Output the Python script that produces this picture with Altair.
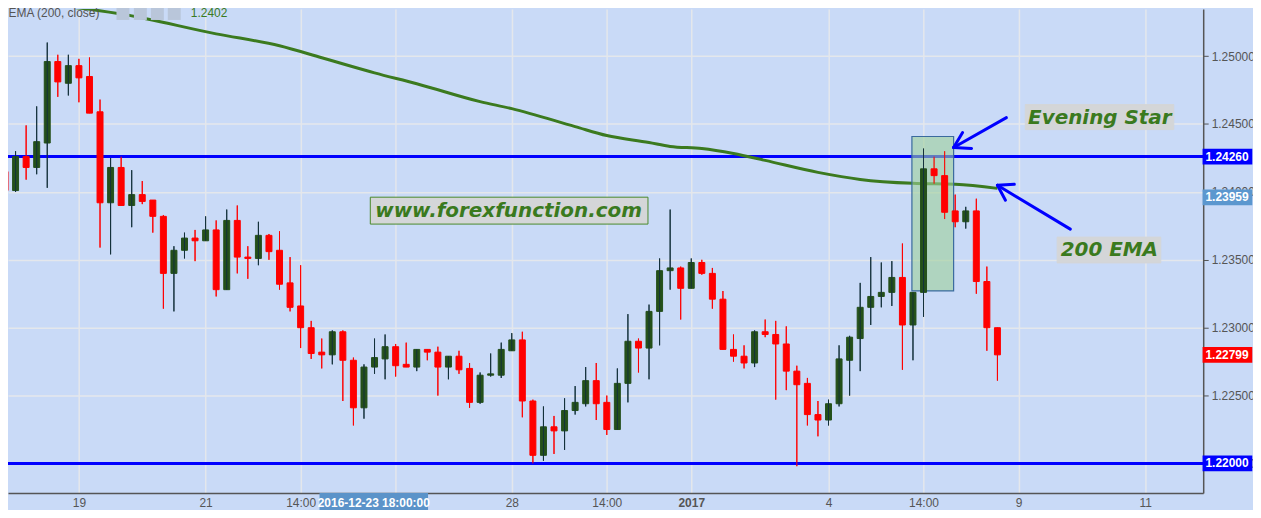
import altair as alt
import pandas as pd

# ---------------- data ----------------
opens = [1.2415, 1.2401, 1.2426, 1.2418, 1.2436, 1.2496, 1.2480, 1.2493, 1.2485, 1.2459,
         1.2392, 1.2418, 1.2390, 1.2398, 1.2394, 1.2382, 1.2340, 1.2357, 1.2366, 1.2364,
         1.2372, 1.2328, 1.2379, 1.2352, 1.2351, 1.2368, 1.2357, 1.2333, 1.2316, 1.2300,
         1.2282, 1.2280, 1.2297, 1.2276, 1.2241, 1.2271, 1.2277, 1.2286, 1.2273, 1.2271,
         1.2284, 1.2282, 1.2271, 1.2279, 1.2270, 1.2245, 1.2265, 1.2265, 1.2283, 1.2291,
         1.2246, 1.2206, 1.2227, 1.2224, 1.2239, 1.2244, 1.2261, 1.2245, 1.2225, 1.2259,
         1.2290, 1.2285, 1.2312, 1.2342, 1.2344, 1.2329, 1.2348, 1.2340, 1.2321, 1.2284,
         1.2279, 1.2274, 1.2297, 1.2295, 1.2288, 1.2268, 1.2259, 1.2236, 1.2232, 1.2244,
         1.2276, 1.2292, 1.2315, 1.2323, 1.2326, 1.2337, 1.2302, 1.2326, 1.2417, 1.2412,
         1.2386, 1.2378, 1.2386, 1.2334, 1.2300]
highs = [1.2428, 1.2430, 1.2449, 1.2463, 1.2510, 1.2501, 1.2501, 1.2498, 1.2499, 1.2468,
         1.2425, 1.2426, 1.2416, 1.2408, 1.2394, 1.2383, 1.2360, 1.2370, 1.2372, 1.2382,
         1.2379, 1.2387, 1.2390, 1.2360, 1.2378, 1.2369, 1.2371, 1.2352, 1.2346, 1.2305,
         1.2292, 1.2298, 1.2298, 1.2278, 1.2273, 1.2292, 1.2295, 1.2288, 1.2289, 1.2284,
         1.2284, 1.2286, 1.2279, 1.2283, 1.2274, 1.2267, 1.2281, 1.2289, 1.2296, 1.2297,
         1.2247, 1.2242, 1.2235, 1.2248, 1.2257, 1.2271, 1.2274, 1.2250, 1.2270, 1.2310,
         1.2292, 1.2317, 1.2351, 1.2387, 1.2345, 1.2351, 1.2350, 1.2344, 1.2327, 1.2295,
         1.2287, 1.2298, 1.2306, 1.2305, 1.2301, 1.2272, 1.2263, 1.2246, 1.2247, 1.2287,
         1.2294, 1.2333, 1.2352, 1.2348, 1.2349, 1.2362, 1.2326, 1.2432, 1.2426, 1.2430,
         1.2398, 1.2389, 1.2395, 1.2345, 1.2300]
lows = [1.2382, 1.2400, 1.2409, 1.2413, 1.2403, 1.2470, 1.2471, 1.2466, 1.2458, 1.2359,
        1.2354, 1.2390, 1.2374, 1.2391, 1.2370, 1.2314, 1.2312, 1.2351, 1.2349, 1.2364,
        1.2323, 1.2328, 1.2340, 1.2336, 1.2346, 1.2350, 1.2328, 1.2312, 1.2285, 1.2277,
        1.2270, 1.2273, 1.2246, 1.2228, 1.2233, 1.2266, 1.2262, 1.2264, 1.2271, 1.2268,
        1.2276, 1.2250, 1.2262, 1.2266, 1.2241, 1.2244, 1.2264, 1.2263, 1.2283, 1.2234,
        1.2200, 1.2202, 1.2207, 1.2210, 1.2236, 1.2242, 1.2232, 1.2221, 1.2225, 1.2245,
        1.2267, 1.2262, 1.2287, 1.2328, 1.2306, 1.2329, 1.2339, 1.2314, 1.2284, 1.2275,
        1.2270, 1.2271, 1.2293, 1.2247, 1.2254, 1.2198, 1.2228, 1.2220, 1.2228, 1.2242,
        1.2250, 1.2268, 1.2302, 1.2315, 1.2316, 1.2269, 1.2276, 1.2308, 1.2406, 1.2380,
        1.2374, 1.2373, 1.2325, 1.2283, 1.2261]
closes = [1.2401, 1.2426, 1.2418, 1.2437, 1.2496, 1.2481, 1.2493, 1.2484, 1.2458, 1.2392,
          1.2418, 1.2390, 1.2398, 1.2393, 1.2382, 1.2340, 1.2357, 1.2366, 1.2364, 1.2372,
          1.2328, 1.2379, 1.2352, 1.2351, 1.2368, 1.2356, 1.2332, 1.2315, 1.2300, 1.2281,
          1.2280, 1.2297, 1.2276, 1.2241, 1.2271, 1.2278, 1.2286, 1.2272, 1.2271, 1.2284,
          1.2282, 1.2271, 1.2279, 1.2269, 1.2245, 1.2265, 1.2266, 1.2284, 1.2291, 1.2246,
          1.2206, 1.2227, 1.2224, 1.2239, 1.2245, 1.2261, 1.2244, 1.2225, 1.2259, 1.2290,
          1.2285, 1.2312, 1.2342, 1.2344, 1.2329, 1.2348, 1.2340, 1.2321, 1.2284, 1.2279,
          1.2274, 1.2297, 1.2295, 1.2288, 1.2268, 1.2258, 1.2236, 1.2232, 1.2244, 1.2277,
          1.2293, 1.2315, 1.2323, 1.2326, 1.2337, 1.2302, 1.2326, 1.2417, 1.2412, 1.2385,
          1.2378, 1.2386, 1.2334, 1.2300, 1.2280]

# 200 EMA read at candle positions
ema_idx = [0, 7, 11, 20, 26, 30, 35, 39, 45, 48, 54, 57, 61, 63, 66, 69, 72, 77, 81, 86, 90, 94]
ema_val = [1.25385, 1.25354, 1.25310, 1.25164, 1.25076, 1.24988, 1.24877, 1.24797, 1.24665,
           1.24613, 1.24481, 1.24415, 1.24364, 1.24335, 1.24320, 1.24283, 1.24232, 1.24144,
           1.24092, 1.24063, 1.24056, 1.24026]

# horizontal support / resistance levels
levels = [1.2426, 1.2200]

# x axis ticks (candle index) and their labels
x_ticks = [7, 19, 28, 37, 48, 57, 65, 78, 87, 96, 108]
x_labels = ["19", "21", "14:00", "", "28", "14:00", "2017", "4", "14:00", "9", "11"]
y_ticks = [1.220, 1.225, 1.230, 1.235, 1.240, 1.245, 1.250]

# price tags on the right axis
tag_text = ["1.24260", "1.23959", "1.22799", "1.22000"]
tag_price = [1.2426, 1.23959, 1.22799, 1.2200]
tag_color = ["#0000ff", "#5b97cf", "#ff0000", "#0000ff"]

# annotations (index / price units)
star_box = dict(x=85.9, x2=89.85, y=1.24408, y2=1.23271)
notes_text = ["www.forexfunction.com", "Evening Star", "200 EMA"]
notes_x = [47.7, 103.7, 104.6]
notes_y = [1.23858, 1.24547, 1.23572]
box_x = [34.6, 96.64, 99.66]
box_x2 = [60.9, 110.7, 109.47]
box_y = [1.23961, 1.24643, 1.23667]
box_y2 = [1.23763, 1.24459, 1.23477]

# arrows: segments (x, y) -> (x2, y2)
arrow_x = [94.85, 89.85, 89.85, 100.9, 94.0, 94.0]
arrow_y = [1.24547, 1.24327, 1.24327, 1.23726, 1.24049, 1.24049]
arrow_x2 = [89.85, 91.55, 90.7, 94.0, 95.6, 94.76]
arrow_y2 = [1.24327, 1.24320, 1.24437, 1.24049, 1.24056, 1.23939]

X_DOMAIN = [0.283, 113.49]
Y_DOMAIN = [1.217821, 1.253470]

# ---------------- tables ----------------
candles = pd.DataFrame({"i": list(range(len(opens))), "open": opens, "high": highs,
                        "low": lows, "close": closes})
ema = pd.DataFrame({"i": ema_idx, "ema": ema_val})
lv = pd.DataFrame({"level": levels})
tags = pd.DataFrame({"text": tag_text, "price": tag_price})
notes = pd.DataFrame({"text": notes_text, "x": notes_x, "y": notes_y})
boxes = pd.DataFrame({"x": box_x, "x2": box_x2, "y": box_y, "y2": box_y2,
                      "kind": ["web", "note", "note"]})
arrows = pd.DataFrame({"x": arrow_x, "y": arrow_y, "x2": arrow_x2, "y2": arrow_y2})
star = pd.DataFrame([star_box])

xs = alt.Scale(domain=X_DOMAIN, nice=False, zero=False, padding=0)
ys = alt.Scale(domain=Y_DOMAIN, nice=False, zero=False, padding=0)

GRID = "#e4e7ec"
AX = "#555555"
labels_js = "[" + ",".join("'%s'" % s for s in x_labels) + "]"
ticks_js = "[" + ",".join(str(v) for v in x_ticks) + "]"

x_axis = alt.Axis(values=x_ticks, title=None, grid=True, gridColor=GRID, gridWidth=1.5,
                  ticks=False, domainColor=AX, domainWidth=1.5, labelColor=AX,
                  labelFont="Liberation Sans", labelFontSize=12, labelPadding=4,
                  labelOverlap=False,
                  labelExpr=labels_js + "[indexof(" + ticks_js + ", datum.value)]",
                  labelFontWeight={"condition": {"test": "datum.value == 65", "value": "bold"},
                                   "value": "normal"})
y_axis = alt.Axis(orient="right", values=y_ticks, format=".5f", title=None, grid=True,
                  gridColor=GRID, gridWidth=1.5, tickColor=AX, tickSize=5, domainColor=AX,
                  domainWidth=1.5, labelColor=AX, labelFont="Liberation Sans",
                  labelFontSize=12, labelPadding=3)

up = "datum.close >= datum.open"

wicks = alt.Chart(candles).mark_rule(strokeWidth=1).encode(
    x=alt.X("i:Q", scale=xs, axis=x_axis),
    y=alt.Y("low:Q", scale=ys, axis=y_axis),
    y2="high:Q",
    color=alt.condition(up, alt.value("#13303a"), alt.value("#ff0000")),
)
bodies = alt.Chart(candles).mark_bar(size=6, strokeWidth=1).encode(
    x=alt.X("i:Q", scale=xs),
    y=alt.Y("open:Q", scale=ys),
    y2="close:Q",
    fill=alt.condition(up, alt.value("#24501a"), alt.value("#ff0000")),
    stroke=alt.condition(up, alt.value("#24501a"), alt.value("#ff0000")),
)
hlines = alt.Chart(lv).mark_rule(color="#0000ff", strokeWidth=3).encode(
    y=alt.Y("level:Q", scale=ys))
ema_line = alt.Chart(ema).mark_line(color="#3b7a1f", strokeWidth=3, interpolate="monotone",
                                    clip=True).encode(
    x=alt.X("i:Q", scale=xs), y=alt.Y("ema:Q", scale=ys))
star_rect = alt.Chart(star).mark_rect(fill="#9fd09a", fillOpacity=0.6, stroke="#3a6a9e",
                                      strokeWidth=1.2).encode(
    x=alt.X("x:Q", scale=xs), x2="x2:Q", y=alt.Y("y:Q", scale=ys), y2="y2:Q")

note_boxes = alt.Chart(boxes).mark_rect(fill="#d4d6d8").encode(
    x=alt.X("x:Q", scale=xs), x2="x2:Q", y=alt.Y("y:Q", scale=ys), y2="y2:Q",
    stroke=alt.condition("datum.kind == 'web'", alt.value("#4a8a2a"), alt.value("#d4d6d8")),
    strokeDash=alt.value([3, 2]),
)
note_text = alt.Chart(notes).mark_text(font="DejaVu Sans", fontSize=20, fontWeight="bold",
                                       fontStyle="italic", color="#3a7a1e",
                                       baseline="middle", align="center").encode(
    x=alt.X("x:Q", scale=xs), y=alt.Y("y:Q", scale=ys), text="text:N")
arrow_marks = alt.Chart(arrows).mark_rule(color="#0000ff", strokeWidth=3, strokeCap="round").encode(
    x=alt.X("x:Q", scale=xs), x2="x2:Q", y=alt.Y("y:Q", scale=ys), y2="y2:Q")

tag_rects = alt.Chart(tags).transform_calculate(
    lo="datum.price - 0.00058", hi="datum.price + 0.00058", x0="113.43", x1="118.14"
).mark_rect().encode(
    x=alt.X("x0:Q", scale=xs), x2="x1:Q", y=alt.Y("lo:Q", scale=ys), y2="hi:Q",
    color=alt.Color("text:N", scale=alt.Scale(domain=tag_text, range=tag_color), legend=None))
tag_texts = alt.Chart(tags).transform_calculate(xc="115.75").mark_text(
    font="Liberation Sans", fontSize=12, fontWeight="bold", color="white",
    align="center", baseline="middle").encode(
    x=alt.X("xc:Q", scale=xs), y=alt.Y("price:Q", scale=ys), text="text:N")

date_df = pd.DataFrame({"x": [29.79], "x2": [40.07], "y": [1.216427], "y2": [1.217821],
                        "xc": [34.93], "yc": [1.21712], "text": ["2016-12-23 18:00:00"]})
date_box = alt.Chart(date_df).mark_rect(fill="#5b93c9").encode(
    x=alt.X("x:Q", scale=xs), x2="x2:Q", y=alt.Y("y:Q", scale=ys), y2="y2:Q")
date_text = alt.Chart(date_df).mark_text(font="Liberation Sans", fontSize=12, fontWeight="bold",
                                         color="white", baseline="middle").encode(
    x=alt.X("xc:Q", scale=xs), y=alt.Y("yc:Q", scale=ys), text="text:N")

legend_df = pd.DataFrame({"x": [0.33], "y": [1.25314], "text": ["EMA (200, close)"]})
legend_val = pd.DataFrame({"x": [17.6], "y": [1.25314], "text": ["1.2402"]})
legend_text = alt.Chart(legend_df).mark_text(font="Liberation Sans", fontSize=12, align="left",
                                             baseline="middle", color="#555555").encode(
    x=alt.X("x:Q", scale=xs), y=alt.Y("y:Q", scale=ys), text="text:N")
legend_value = alt.Chart(legend_val).mark_text(font="Liberation Sans", fontSize=12, align="left",
                                               baseline="middle", color="#3b7a1f").encode(
    x=alt.X("x:Q", scale=xs), y=alt.Y("y:Q", scale=ys), text="text:N")
icons_df = pd.DataFrame({"x": [11.17, 12.82, 14.43, 16.03], "y": [1.25314] * 4})
icons = alt.Chart(icons_df).mark_square(size=169, color="#b9c6da", opacity=1).encode(
    x=alt.X("x:Q", scale=xs), y=alt.Y("y:Q", scale=ys))

chart = alt.layer(
    wicks, hlines, ema_line, star_rect, bodies, wicks.encode(),
    note_boxes, note_text, arrow_marks, tag_rects, tag_texts, date_box, date_text,
    icons, legend_text, legend_value,
).properties(
    width=1200, height=486, background="#c9daf7",
    autosize=alt.AutoSizeParams(type="none"),
    padding={"left": 0, "top": 0, "right": 50, "bottom": 16},
).configure_view(stroke=None, fill="#c9daf7")

chart.save("out.html", embed_options={"renderer": "svg", "actions": False})
